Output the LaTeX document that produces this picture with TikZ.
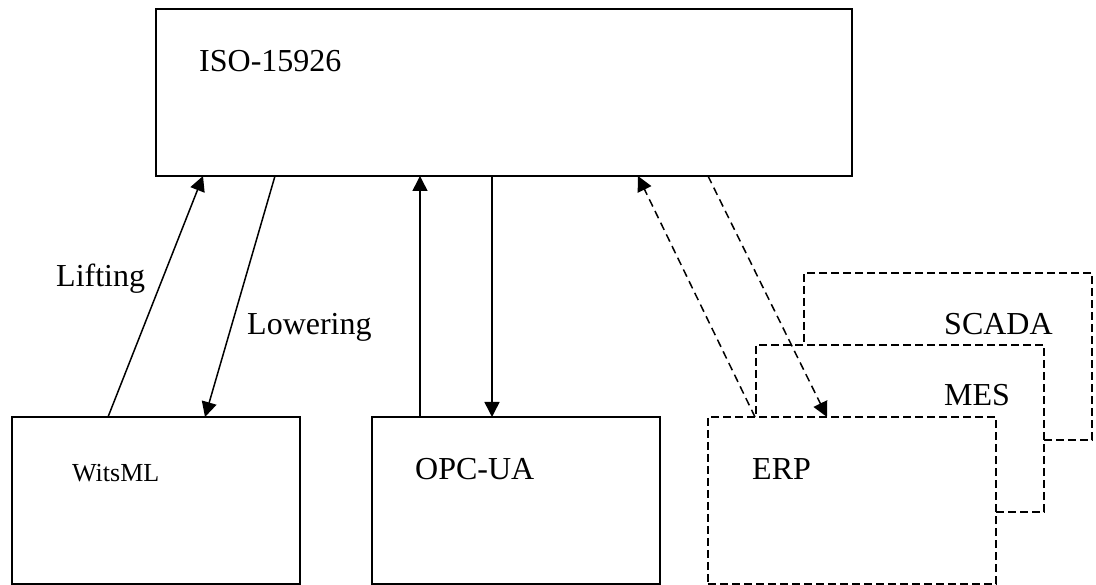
\documentclass[tikz,border=0pt]{standalone}
\usepackage{fontspec}
\setmainfont{Liberation Serif}
\usetikzlibrary{arrows.meta}
\begin{document}
\begin{tikzpicture}[x=1pt,y=-1pt,
  solidbox/.style={draw, line width=2.2pt, fill=white, inner sep=0pt, outer sep=0pt, anchor=north west},
  dashbox/.style={draw, line width=1.9pt, fill=white, dash pattern=on 8pt off 4pt, inner sep=0pt, outer sep=0pt, anchor=north west, minimum width=288pt, minimum height=167pt},
  label/.style={anchor=base west, inner sep=0pt, font=\fontsize{32}{38}\selectfont},
  link/.style={line width=1.5pt, -{Triangle[length=15pt,width=15pt]}},
  dashlink/.style={link, dash pattern=on 8pt off 5pt}]
\useasboundingbox (0,0) rectangle (1096,585);

% upper model box
\node[solidbox, line width=2.5pt, minimum width=696pt, minimum height=167pt] (iso) at (156,9) {};
\node[label] (isotext) at (199,72) {ISO-15926};

% lower solid boxes
\node[solidbox, minimum width=288pt, minimum height=167pt] (wits) at (12,417) {};
\node[label, font=\fontsize{26}{31}\selectfont] (witstext) at (72,482) {WitsML};
\node[solidbox, minimum width=288pt, minimum height=167pt] (opc) at (372,417) {};
\node[label] (opctext) at (415,479) {OPC-UA};

% stacked dashed boxes, back to front
\node[dashbox] (scada) at (804,273) {};
\node[label] (scadatext) at (944,335) {SCADA};
\node[dashbox] (mes) at (756,345) {};
\node[label] (mestext) at (944,406) {MES};
\node[dashbox] (erp) at (708,417) {};
\node[label] (erptext) at (752,479) {ERP};

% WitsML links
\draw[link] ([xshift=96pt]wits.north west) -- ([xshift=47pt]iso.south west);
\draw[link] ([xshift=119pt]iso.south west) -- ([xshift=193pt]wits.north west);
\node[label] (lifting) at (56,287) {Lifting};
\node[label] (lowering) at (247,335) {Lowering};

% OPC-UA links
\draw[link] ([xshift=48pt]opc.north west) -- ([xshift=264pt]iso.south west);
\draw[link] ([xshift=336pt]iso.south west) -- ([xshift=120pt]opc.north west);

% ERP links
\draw[dashlink] ([xshift=47pt]erp.north west) -- ([xshift=482pt]iso.south west);
\draw[dashlink] ([xshift=552pt]iso.south west) -- ([xshift=119pt]erp.north west);
\end{tikzpicture}
\end{document}
